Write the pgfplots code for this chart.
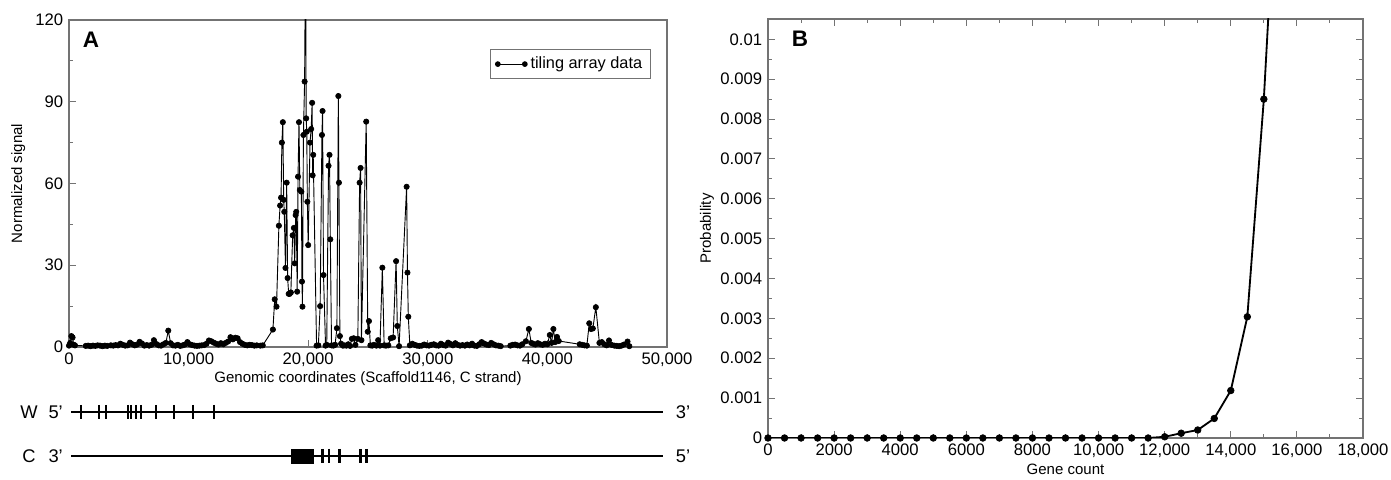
\documentclass[border=0pt]{standalone}
\usepackage{fontspec}
\setmainfont{Liberation Sans}
\usepackage{pgfplots}
\usepackage{pgfplotstable}
\pgfplotsset{compat=1.18}

\definecolor{frame}{RGB}{115,115,115}

% tiling array signal (Scaffold1146, C strand)
\pgfplotstableread{
x y
0 0.5
100 1.5
200 4.0
300 3.5
400 0.8
500 0.6
1400 0.4
1600 0.5
1800 0.3
2000 0.5
2200 0.4
2400 0.6
2600 0.5
2800 0.3
3000 0.5
3200 0.4
3500 0.6
3700 0.5
3900 0.7
4100 0.6
4300 1.2
4500 0.8
4700 0.5
4900 0.6
5100 1.6
5300 1.0
5500 0.6
5700 0.9
5900 1.9
6100 1.3
6300 0.5
6500 0.7
6700 0.5
6900 0.8
7100 2.5
7300 1.1
7500 0.6
7700 0.5
7900 1.0
8100 1.5
8300 6.0
8500 1.4
8700 0.6
8900 0.5
9100 0.8
9300 0.4
9500 0.6
9700 0.9
9900 1.8
10100 1.0
10300 0.7
10500 0.5
10700 0.4
10900 0.5
11100 0.6
11300 0.7
11500 1.2
11700 2.4
11900 2.1
12100 1.6
12300 1.2
12500 0.9
12700 1.4
12900 1.0
13100 1.5
13300 2.0
13500 3.6
13700 2.8
13900 3.4
14100 3.2
14300 1.8
14500 1.2
14700 0.8
14900 0.6
15100 0.8
15300 0.7
15500 0.5
15700 0.6
16000 0.5
16200 0.6
17050 6.4
17200 17.5
17350 14.8
17550 44.5
17650 51.9
17730 54.8
17800 75.0
17880 82.5
17950 54.0
18000 49.6
18100 29.0
18200 60.3
18280 25.3
18370 19.5
18450 19.5
18550 20.0
18700 41.0
18800 43.7
18870 30.7
18950 48.4
19000 49.6
19080 20.3
19150 62.5
19230 82.5
19300 57.6
19430 57.0
19480 24.0
19520 14.8
19600 77.8
19700 97.4
19780 150
19830 83.9
19880 79.0
19930 53.3
20000 37.4
20150 75.0
20250 80.0
20330 89.6
20370 63.0
20420 70.5
20700 0.5
20850 0.6
21000 15.0
21150 77.8
21200 86.6
21280 26.4
21450 0.5
21550 0.8
21700 66.5
21780 70.5
21850 39.5
21950 0.6
22100 0.5
22250 0.8
22400 6.9
22520 92.1
22570 60.3
22650 4.0
22750 1.2
22900 0.5
23050 0.6
23200 0.5
23350 1.0
23500 0.4
23650 3.0
23800 3.2
23950 0.8
24150 3.0
24300 60.3
24380 65.7
24450 2.5
24850 82.7
24980 5.6
25080 9.5
25200 0.6
25350 0.5
25500 0.8
25700 0.5
25850 2.5
26000 0.5
26200 29.1
26350 0.6
26500 0.5
26700 0.6
26900 3.2
27100 3.5
27350 31.5
27450 7.7
27600 0.3
28230 58.8
28300 27.3
28370 11.1
28500 0.6
28700 1.2
28900 0.8
29100 0.5
29300 0.4
29500 0.5
29700 0.9
29900 0.6
30100 0.5
30300 0.8
30500 1.0
30700 0.6
30900 0.5
31100 1.2
31300 0.7
31500 0.5
31700 1.6
31900 1.1
32100 0.6
32300 1.4
32500 0.8
32700 0.5
32900 0.7
33100 0.5
33300 0.9
33500 0.6
33700 1.2
33900 0.5
34100 0.4
34300 1.0
34500 1.8
34700 1.3
34900 0.9
35100 0.7
35300 1.5
35500 1.0
35700 0.6
35900 0.5
36100 0.3
36900 0.5
37100 0.8
37300 0.9
37500 0.6
37700 0.5
37900 1.0
38200 2.1
38450 6.6
38650 1.5
38800 1.2
39000 0.9
39200 1.4
39400 1.0
39600 0.8
39800 1.2
40000 1.0
40200 4.4
40350 1.5
40500 6.6
40650 1.8
40800 3.7
40950 2.2
42700 1.0
42900 0.8
43100 0.6
43300 0.5
43500 8.7
43650 6.6
43800 6.8
44050 14.6
44350 1.5
44550 1.8
44750 1.0
44950 0.6
45150 2.4
45350 0.8
45600 0.5
45800 0.4
46000 0.3
46200 0.5
46400 0.9
46700 2.0
46850 0.3
}\tiling

% probability of gene count
\pgfplotstableread{
x y
0 0
500 0
1000 0
1500 0
2000 0
2500 0
3000 0
3500 0
4000 0
4500 0
5000 0
5500 0
6000 0
6500 0
7000 0
7500 0
8000 0
8500 0
9000 0
9500 0
10000 0
10500 0
11000 0
11500 0
12000 0.00003
12500 0.00012
13000 0.0002
13500 0.00049
14000 0.00119
14500 0.00304
15000 0.0085
15500 0.0161
}\genes

\pgfplotsset{
  panel/.style={
    scale only axis,
    axis line style={frame, line width=0.7pt},
    tick style={frame, line width=0.6pt},
    tick align=inside,
    major tick length=4pt, minor tick length=2.2pt,
    tick label style={font=\fontsize{10}{11}\selectfont},
    label style={font=\fontsize{9}{10}\selectfont},
    /pgf/number format/assume math mode=true,
  },
  twodot/.style={legend image code/.code={\draw[##1] plot coordinates {(0cm,0cm) (0.57cm,0cm)};}},
}

\begin{document}
\begin{tikzpicture}
\useasboundingbox (-41.4pt,-79.8pt) rectangle (793.2pt,208.2pt);

% ---- panel A
\begin{axis}[panel, at={(0pt,0pt)}, anchor=south west,
  width=358.8pt, height=196.2pt,
  xmin=0, xmax=50000, ymin=0, ymax=120,
  xtick={0,10000,20000,30000,40000,50000},
  ytick={0,30,60,90,120}, minor y tick num=1,
  tick pos=left,
  scaled x ticks=false,
  x tick label style={/pgf/number format/1000 sep={,}},
  xlabel={Genomic coordinates (Scaffold1146, C strand)},
  ylabel={Normalized signal},
  xlabel style={at={(axis description cs:0.5,0)}, anchor=north, yshift=-11pt},
  ylabel style={at={(axis description cs:-0.085,0.5)}, anchor=center},
  legend style={at={(0.973,0.911)}, anchor=north east, draw=frame,
    font=\fontsize{9.8}{11}\selectfont, inner xsep=3pt, inner ysep=2.5pt},
  legend cell align=left,
]
\addlegendimage{black, line width=0.6pt, mark=*, mark size=1.4pt, twodot}
\addlegendentry{tiling array data}
\addplot[black, line width=0.55pt, no marks, forget plot] table {\tiling};
\addplot[black, only marks, mark=*, mark size=1.6pt, forget plot,
  restrict y to domain=-1:121] table {\tiling};
\node[font=\bfseries\fontsize{13.5}{14}\selectfont] at ([xshift=13.2pt,yshift=-12pt]rel axis cs:0,1) {A};
\end{axis}

% ---- gene models below panel A
\begin{axis}[at={(0pt,-65.4pt)}, anchor=south west, scale only axis,
  width=358.8pt, height=26.4pt, xmin=0, xmax=50000, ymin=0, ymax=1,
  hide axis, clip=false]
\addplot[black, line width=0.7pt] coordinates {(170,1) (49700,1)};
\addplot[black, line width=0.7pt] coordinates {(170,0) (49700,0)};
\addplot[black, only marks, mark=|, mark size=4.2pt, mark options={line width=1.2pt}]
  coordinates {(1000,1) (2510,1) (3090,1) (4900,1) (5180,1) (5600,1) (6050,1)
               (7270,1) (8780,1) (10370,1) (12120,1)};
\addplot[black, fill=black] coordinates {(18560,-0.16) (20450,-0.16) (20450,0.16) (18560,0.16)} -- cycle;
\addplot[black, only marks, mark=|, mark size=4.2pt, mark options={line width=1.6pt}]
  coordinates {(21200,0) (21750,0) (22620,0) (24400,0) (24880,0)};
\node[font=\fontsize{11}{12}\selectfont] at ([xshift=-24pt]axis cs:0,1) {W};
\node[font=\fontsize{11}{12}\selectfont] at ([xshift=-8pt]axis cs:0,1) {5'};
\node[font=\fontsize{11}{12}\selectfont] at ([xshift=-24pt]axis cs:0,0) {C};
\node[font=\fontsize{11}{12}\selectfont] at ([xshift=-8pt]axis cs:0,0) {3'};
\node[font=\fontsize{11}{12}\selectfont] at ([xshift=9.6pt]axis cs:50000,1) {3'};
\node[font=\fontsize{11}{12}\selectfont] at ([xshift=9.6pt]axis cs:50000,0) {5'};
\end{axis}

% ---- panel B
\begin{axis}[panel, at={(419.4pt,-54.6pt)}, anchor=south west,
  width=357pt, height=251.4pt,
  xmin=0, xmax=18000, ymin=0, ymax=0.01051,
  xtick={0,2000,4000,6000,8000,10000,12000,14000,16000,18000},
  xticklabels={0,2000,4000,6000,8000,{10,000},{12,000},{14,000},{16,000},{18,000}},
  minor x tick num=1,
  ytick={0,0.001,0.002,0.003,0.004,0.005,0.006,0.007,0.008,0.009,0.01},
  yticklabels={0,0.001,0.002,0.003,0.004,0.005,0.006,0.007,0.008,0.009,0.01},
  minor y tick num=1,
  scaled x ticks=false, scaled y ticks=false,
  xlabel={Gene count}, ylabel={Probability},
  xlabel style={at={(axis description cs:0.5,0)}, anchor=north, yshift=-12pt},
  ylabel style={at={(axis description cs:-0.1025,0.5)}, anchor=center},
]
\addplot[black, line width=1.1pt, no marks] table {\genes};
\addplot[black, only marks, mark=*, mark size=2pt,
  restrict y to domain=-1:0.0106] table {\genes};
\node[font=\bfseries\fontsize{13.5}{14}\selectfont] at ([xshift=19.2pt,yshift=-12pt]rel axis cs:0,1) {B};
\end{axis}
\end{tikzpicture}
\end{document}
